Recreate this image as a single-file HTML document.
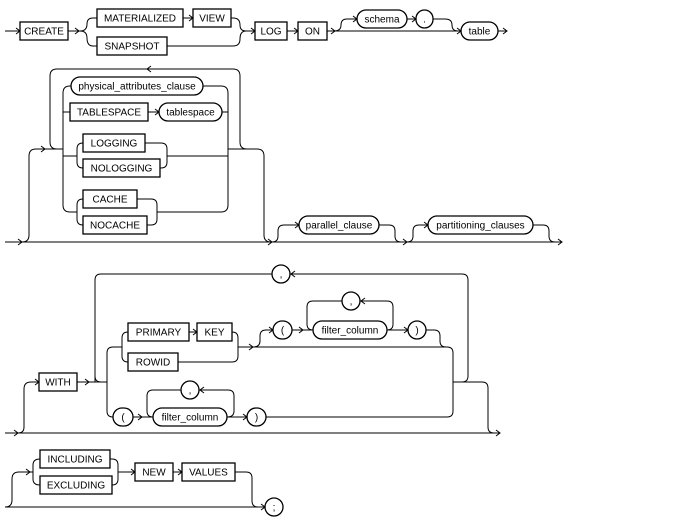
<!DOCTYPE html>
<html><head><meta charset="utf-8"><style>
html,body{margin:0;padding:0;background:#fff;}
svg{display:block;}
text{font-family:"Liberation Sans",Arial,sans-serif;font-size:10px;fill:#000;text-anchor:middle;}
</style></head><body>
<svg width="686" height="522" viewBox="0 0 686 522" xmlns="http://www.w3.org/2000/svg">
<g fill="none" stroke="#000" stroke-width="1">
<!-- Row 1 -->
<path d="M5,31 H20"/>
<path d="M68,31 H80 Q87,31 87,24 Q87,18 93,18 H97"/>
<path d="M80,31 Q87,31 87,38 Q87,46 93,46 H97"/>
<path d="M183,18 H193"/>
<path d="M231,18 H233 Q240,18 240,25 Q240,31 246,31 H255"/>
<path d="M167,46 H233 Q240,46 240,39 Q240,31 246,31"/>
<path d="M287,31 H298"/>
<path d="M327,31 H461"/>
<path d="M334,31 Q341,31 341,25 Q341,19 347,19 H357"/>
<path d="M407,19 H416"/>
<path d="M433,19 H445 Q452,19 452,25 Q452,31 458,31"/>
<path d="M498,31 H507"/>
<!-- Row 2 -->
<path d="M5,242 H562"/>
<path d="M22,242 Q29,242 29,235 V156 Q29,149 36,149 H63"/>
<path d="M63,149 H57 Q50,149 50,142 V76 Q50,69 57,69 H233 Q240,69 240,76 V142 Q240,149 247,149"/>
<path d="M71,86 H70 Q63,86 63,93 V205 Q63,212 70,212 H77"/>
<path d="M63,112 H70"/>
<path d="M63,156 H77"/>
<path d="M83,143 Q77,143 77,149 V162 Q77,168 83,168"/>
<path d="M83,199 Q77,199 77,205 V219 Q77,225 83,225"/>
<path d="M148,112 H159"/>
<path d="M145,143 H161 Q167,143 167,149 V162 Q167,168 161,168 H160"/>
<path d="M167,156 H228"/>
<path d="M137,199 H151 Q157,199 157,205 V219 Q157,225 151,225 H147"/>
<path d="M157,212 H221 Q228,212 228,205 V93 Q228,86 221,86 H203"/>
<path d="M222,112 H228"/>
<path d="M228,149 H257 Q264,149 264,156 V235 Q264,242 271,242"/>
<path d="M272,242 Q278,242 278,236 V231 Q278,225 284,225 H299"/>
<path d="M379,225 H389 Q395,225 395,231 V236 Q395,242 401,242"/>
<path d="M407,242 Q413,242 413,236 V231 Q413,225 419,225 H428"/>
<path d="M533,225 H543 Q549,225 549,231 V236 Q549,242 555,242"/>
<!-- Row 3 -->
<path d="M5,433 H500"/>
<path d="M18,433 Q24,433 24,427 V389 Q24,382 31,382 H39"/>
<path d="M77,382 H107"/>
<path d="M95,382 Q95,382 95,376 V280 Q95,274 101,274 H462 Q468,274 468,280 V376 Q468,382 462,382"/>
<path d="M89,382 H101 Q95,382 95,376"/>
<path d="M107,353 Q107,347 113,347 H122"/>
<path d="M107,353 V411 Q107,417 113,417"/>
<path d="M128,332 Q122,332 122,338 V356 Q122,362 128,362"/>
<path d="M189,332 H197"/>
<path d="M232,332 Q238,332 238,338 V356 Q238,362 232,362 H178"/>
<path d="M238,347 H447 Q453,347 453,353 V411 Q453,417 447,417 H266"/>
<path d="M453,382 H482 Q488,382 488,388 V427 Q488,433 494,433"/>
<path d="M253,347 Q260,347 260,341 V336 Q260,330 266,330 H273"/>
<path d="M292,330 H313"/>
<path d="M387,330 H408"/>
<path d="M426,330 H434 Q440,330 440,336 V341 Q440,347 446,347"/>
<path d="M387,330 Q393,330 393,324 V307 Q393,301 387,301 H360"/>
<path d="M342,301 H313 Q307,301 307,307 V324 Q307,330 313,330"/>
<path d="M133,417 H153"/>
<path d="M227,417 H247"/>
<path d="M227,417 Q234,417 234,411 V396 Q234,390 228,390 H199"/>
<path d="M181,390 H153 Q147,390 147,396 V411 Q147,417 153,417"/>
<!-- Row 4 -->
<path d="M5,507 H265"/>
<path d="M5,507 Q12,507 12,500 V479 Q12,472 19,472 H33"/>
<path d="M40,459 Q33,459 33,465 V479 Q33,485 40,485"/>
<path d="M110,459 H112 Q118,459 118,465 V479 Q118,485 112,485"/>
<path d="M118,472 H135"/>
<path d="M173,472 H182"/>
<path d="M235,472 H246 Q252,472 252,478 V501 Q252,507 258,507"/>
<!-- Arrowheads (right) -->
<g stroke-width="1">
<path d="M16,28 L20,31 L16,34"/>
<path d="M75,28 L79,31 L75,34"/>
<path d="M189,15 L193,18 L189,21"/>
<path d="M251,28 L255,31 L251,34"/>
<path d="M294,28 L298,31 L294,34"/>
<path d="M331,28 L335,31 L331,34"/>
<path d="M353,16 L357,19 L353,22"/>
<path d="M412,16 L416,19 L412,22"/>
<path d="M457,28 L461,31 L457,34"/>
<path d="M503,28 L507,31 L503,34"/>
<path d="M18,239 L22,242 L18,245"/>
<path d="M41,146 L45,149 L41,152"/>
<path d="M155,109 L159,112 L155,115"/>
<path d="M268,239 L272,242 L268,245"/>
<path d="M295,222 L299,225 L295,228"/>
<path d="M403,239 L407,242 L403,245"/>
<path d="M424,222 L428,225 L424,228"/>
<path d="M558,239 L562,242 L558,245"/>
<path d="M14,430 L18,433 L14,436"/>
<path d="M35,379 L39,382 L35,385"/>
<path d="M85,379 L89,382 L85,385"/>
<path d="M193,329 L197,332 L193,335"/>
<path d="M249,344 L253,347 L249,350"/>
<path d="M269,327 L273,330 L269,333"/>
<path d="M299,327 L303,330 L299,333"/>
<path d="M404,327 L408,330 L404,333"/>
<path d="M138,414 L142,417 L138,420"/>
<path d="M243,414 L247,417 L243,420"/>
<path d="M496,430 L500,433 L496,436"/>
<path d="M26,469 L30,472 L26,475"/>
<path d="M131,469 L135,472 L131,475"/>
<path d="M178,469 L182,472 L178,475"/>
<path d="M261,504 L265,507 L261,510"/>
<!-- left-pointing -->
<path d="M151,66 L147,69 L151,72"/>
<path d="M295,271 L291,274 L295,277"/>
<path d="M365,298 L361,301 L365,304"/>
<path d="M204,387 L200,390 L204,393"/>
</g>
</g>
<!-- Boxes -->
<g fill="#fff" stroke="#000" stroke-width="1.3">
<rect x="20" y="22" width="48" height="18"/>
<rect x="97" y="9" width="86" height="18"/>
<rect x="193" y="9" width="38" height="18"/>
<rect x="97" y="37" width="70" height="18"/>
<rect x="255" y="22" width="32" height="18"/>
<rect x="298" y="22" width="29" height="18"/>
<rect x="70" y="103" width="78" height="18"/>
<rect x="83" y="134" width="62" height="18"/>
<rect x="83" y="159" width="77" height="18"/>
<rect x="83" y="190" width="54" height="18"/>
<rect x="83" y="216" width="64" height="18"/>
<rect x="39" y="373" width="38" height="18"/>
<rect x="128" y="323" width="61" height="18"/>
<rect x="197" y="323" width="35" height="18"/>
<rect x="128" y="353" width="50" height="18"/>
<rect x="40" y="450" width="70" height="18"/>
<rect x="40" y="476" width="72" height="18"/>
<rect x="135" y="463" width="38" height="18"/>
<rect x="182" y="463" width="53" height="18"/>
<!-- Ovals -->
<rect x="357" y="10" width="50" height="18" rx="9"/>
<rect x="416" y="10" width="17" height="18" rx="8.5"/>
<rect x="461" y="22" width="37" height="18" rx="9"/>
<rect x="71" y="77" width="132" height="18" rx="9"/>
<rect x="159" y="103" width="63" height="18" rx="9"/>
<rect x="299" y="216" width="80" height="18" rx="9"/>
<rect x="428" y="216" width="105" height="18" rx="9"/>
<rect x="272" y="265" width="18" height="18" rx="9"/>
<rect x="273" y="321" width="19" height="18" rx="9"/>
<rect x="313" y="321" width="74" height="18" rx="9"/>
<rect x="408" y="321" width="18" height="18" rx="9"/>
<rect x="342" y="292" width="18" height="18" rx="9"/>
<rect x="113" y="408" width="20" height="18" rx="9"/>
<rect x="153" y="408" width="74" height="18" rx="9"/>
<rect x="247" y="408" width="19" height="18" rx="9"/>
<rect x="181" y="381" width="18" height="18" rx="9"/>
<rect x="265" y="498" width="18" height="18" rx="9"/>
</g>
<!-- Text -->
<text x="44" y="34.5">CREATE</text>
<text x="140" y="21.5">MATERIALIZED</text>
<text x="212" y="21.5">VIEW</text>
<text x="132" y="49.5">SNAPSHOT</text>
<text x="271" y="34.5">LOG</text>
<text x="312.5" y="34.5">ON</text>
<text x="382" y="22.5">schema</text>
<text x="424.5" y="22.5">.</text>
<text x="479.5" y="34.5">table</text>
<text x="137" y="89.5">physical_attributes_clause</text>
<text x="109" y="115.5">TABLESPACE</text>
<text x="190.5" y="115.5">tablespace</text>
<text x="114" y="146.5">LOGGING</text>
<text x="121.5" y="171.5">NOLOGGING</text>
<text x="110" y="202.5">CACHE</text>
<text x="115" y="228.5">NOCACHE</text>
<text x="339" y="228.5">parallel_clause</text>
<text x="480.5" y="228.5">partitioning_clauses</text>
<text x="58" y="385.5">WITH</text>
<text x="281" y="277.5">,</text>
<text x="158.5" y="335.5">PRIMARY</text>
<text x="214.5" y="335.5">KEY</text>
<text x="153" y="365.5">ROWID</text>
<text x="282.5" y="333.5">(</text>
<text x="350" y="333.5">filter_column</text>
<text x="417" y="333.5">)</text>
<text x="351" y="304.5">,</text>
<text x="123" y="420.5">(</text>
<text x="190" y="420.5">filter_column</text>
<text x="256.5" y="420.5">)</text>
<text x="190" y="393.5">,</text>
<text x="75" y="462.5">INCLUDING</text>
<text x="76" y="488.5">EXCLUDING</text>
<text x="154" y="475.5">NEW</text>
<text x="208.5" y="475.5">VALUES</text>
<text x="274" y="510.5">;</text>
</svg>
</body></html>
